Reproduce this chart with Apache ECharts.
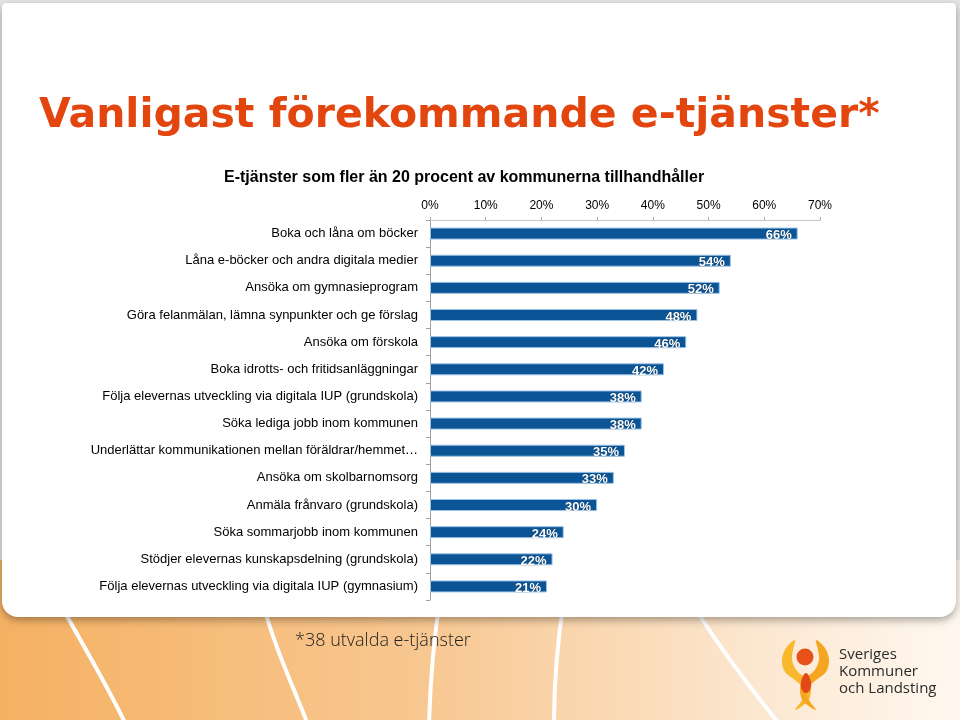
<!DOCTYPE html>
<html>
<head>
<meta charset="utf-8">
<script src="https://cdn.jsdelivr.net/npm/echarts@6/dist/echarts.min.js"></script>
<style>html,body{margin:0;padding:0;background:#e6e6e6}#c{width:960px;height:720px}</style>
</head>
<body>
<div id="c"></div>
<script>
const categories = [
  "Boka och låna om böcker",
  "Låna e-böcker och andra digitala medier",
  "Ansöka om gymnasieprogram",
  "Göra felanmälan, lämna synpunkter och ge förslag",
  "Ansöka om förskola",
  "Boka idrotts- och fritidsanläggningar",
  "Följa elevernas utveckling via digitala IUP (grundskola)",
  "Söka lediga jobb inom kommunen",
  "Underlättar kommunikationen mellan föräldrar/hemmet…",
  "Ansöka om skolbarnomsorg",
  "Anmäla frånvaro (grundskola)",
  "Söka sommarjobb inom kommunen",
  "Stödjer elevernas kunskapsdelning (grundskola)",
  "Följa elevernas utveckling via digitala IUP (gymnasium)"
];
const values = [66, 54, 52, 48, 46, 42, 38, 38, 35, 33, 30, 24, 22, 21];
const xTicks = [0, 10, 20, 30, 40, 50, 60, 70];
const titleText = "Vanligast förekommande e-tjänster*";
const subtitleText = "E-tjänster som fler än 20 procent av kommunerna tillhandhåller";
const footnoteText = "*38 utvalda e-tjänster";
const logoLines = ["Sveriges", "Kommuner", "och Landsting"];

const chart = echarts.init(document.getElementById('c'), null, {renderer: 'canvas'});

function curve(x1, y1, cx1, cy1, cx2, cy2, x2, y2) {
  return {type: 'bezierCurve', silent: true, z: 1,
    shape: {x1, y1, cpx1: cx1, cpy1: cy1, cpx2: cx2, cpy2: cy2, x2, y2},
    style: {stroke: '#ffffff', lineWidth: 4, fill: null}};
}
const leftFlame = [[795,640],[786,648],[782,660],[785,672],[795,680],[803,688],[803,698],[795,710],[808,701],[811,690],[808,680],[797,671],[792,660],[793,650]];
const rightFlame = leftFlame.map(p => [1611 - p[0], p[1]]);

const graphics = [
  {type: 'rect', silent: true, z: 0, shape: {x: 0, y: 560, width: 960, height: 160},
    style: {fill: new echarts.graphic.LinearGradient(0, 0, 1, 0, [
      {offset: 0, color: '#F5B163'}, {offset: 0.45, color: '#F8C892'},
      {offset: 0.8, color: '#FCE8D2'}, {offset: 1, color: '#FFF8F0'}])}},
  curve(58, 600, 80, 640, 110, 690, 126, 725),
  curve(262, 600, 275, 650, 295, 690, 308, 725),
  curve(440, 600, 432, 650, 430, 690, 429, 725),
  curve(564, 600, 556, 650, 554, 690, 554, 725),
  curve(690, 600, 720, 650, 760, 700, 780, 725),
  {type: 'rect', silent: true, z: 2, shape: {x: 2, y: 3, width: 954, height: 614, r: [4, 4, 16, 16]},
    style: {fill: '#ffffff', shadowBlur: 8, shadowOffsetY: 3, shadowColor: 'rgba(0,0,0,0.35)'}},
  {type: 'text', z: 5, x: 295, y: 632, style: {text: footnoteText, font: '300 18px "Open Sans"', fill: '#222222'}},
  {type: 'polygon', z: 5, shape: {points: leftFlame, smooth: 0.35}, style: {fill: '#F9B72C'}},
  {type: 'polygon', z: 5, shape: {points: rightFlame, smooth: 0.35}, style: {fill: '#F6A520'}},
  {type: 'circle', z: 6, shape: {cx: 805, cy: 657, r: 8.5}, style: {fill: '#E8501A'}},
  {type: 'polygon', z: 6, shape: {points: [[806,673],[801,682],[802,690],[806,693],[810,690],[811,682]], smooth: 0.4}, style: {fill: '#E14A17'}},
  {type: 'text', z: 6, x: 839, y: 646, style: {text: logoLines.join('\n'), font: '15px "Open Sans"', lineHeight: 17, fill: '#2a2a2a'}}
];

const option = {
  backgroundColor: '#e6e6e6',
  animation: false,
  title: [
    {text: titleText, left: 34, top: 91, z: 10,
      textStyle: {fontFamily: 'DejaVu Sans', fontWeight: 'bold', fontSize: 41, color: '#E2460E'}},
    {text: subtitleText, left: 219, top: 165, z: 10,
      textStyle: {fontFamily: 'Arial', fontWeight: 'bold', fontSize: 16, color: '#000'}}
  ],
  graphic: graphics,
  grid: {left: 430, right: 140, top: 220, height: 380, containLabel: false, z: 10},
  xAxis: {
    type: 'value', position: 'top', min: 0, max: 70, interval: 10,
    axisLine: {show: true, lineStyle: {color: '#c8c8c8'}},
    axisTick: {show: true, length: 3, lineStyle: {color: '#aaaaaa'}},
    splitLine: {show: false},
    axisLabel: {formatter: v => v + '%', color: '#000', fontFamily: 'Arial', fontSize: 12, margin: 8},
    z: 10
  },
  yAxis: {
    type: 'category', data: categories, inverse: true,
    axisLine: {show: true, lineStyle: {color: '#a0a0a0'}},
    axisTick: {show: true, length: 4, lineStyle: {color: '#a0a0a0'}},
    axisLabel: {color: '#000', fontFamily: 'Arial', fontSize: 13, margin: 12},
    z: 10
  },
  series: [{
    type: 'bar', data: values, barWidth: 12, z: 10,
    itemStyle: {color: '#0B5596', borderColor: '#9CC3E6', borderWidth: 1},
    label: {show: true, position: 'insideRight', distance: 6, formatter: '{c}%',
      color: '#ffffff', fontFamily: 'Arial', fontWeight: 'bold', fontSize: 13, offset: [0, 2],
      textShadowColor: 'rgba(0,0,0,0.6)', textShadowBlur: 1}
  }]
};
chart.setOption(option);
</script>
</body>
</html>
